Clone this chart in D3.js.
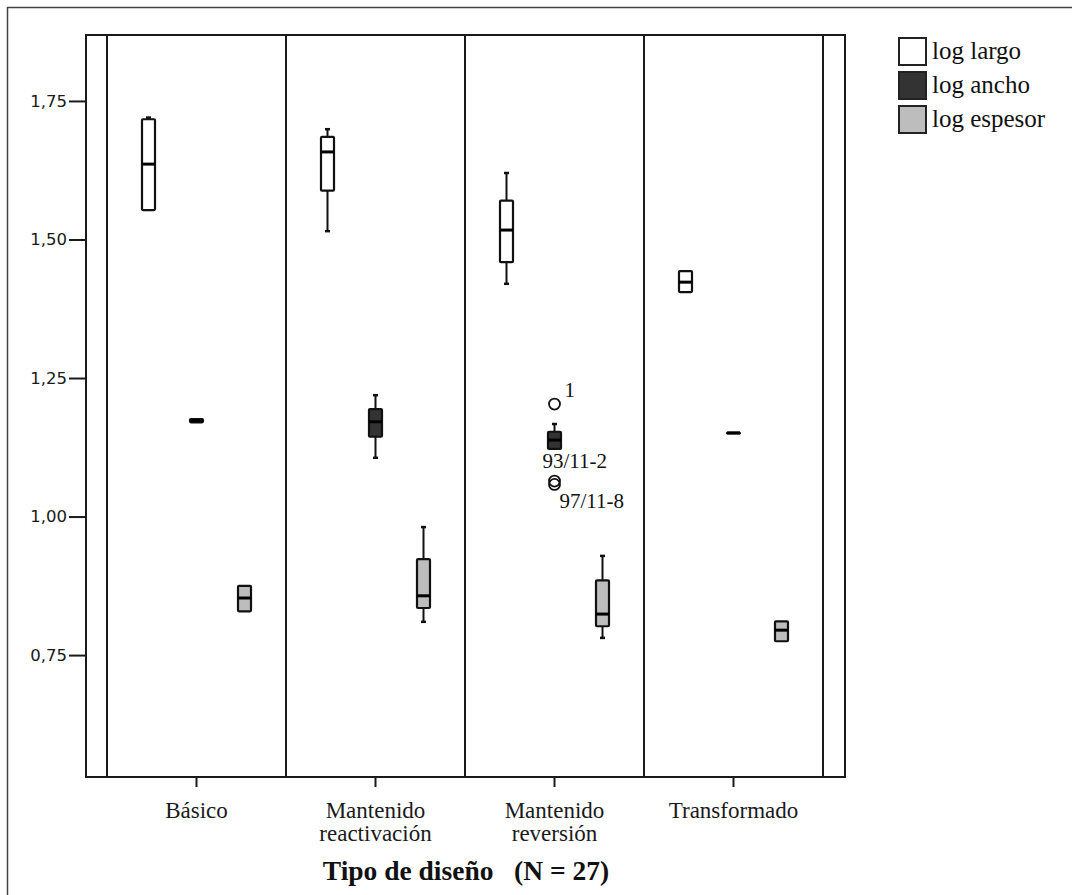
<!DOCTYPE html>
<html>
<head>
<meta charset="utf-8">
<script src="https://cdn.jsdelivr.net/npm/d3@7"></script>
<style>
  body { margin: 0; background: #fff; }
  svg { display: block; }
</style>
</head>
<body>
<script>
// categories and series
const categories = ["Básico", "Mantenido reactivación", "Mantenido reversión", "Transformado"];
const series = ["log largo", "log ancho", "log espesor"];

// [min, q1, median, q3, max] for each category
const logLargo = [
  [1.553, 1.553, 1.636, 1.717, 1.720],
  [1.515, 1.588, 1.658, 1.685, 1.699],
  [1.420, 1.459, 1.517, 1.570, 1.620],
  [1.405, 1.405, 1.423, 1.443, 1.443]
];
const logAncho = [
  [1.170, 1.170, 1.173, 1.176, 1.176],
  [1.106, 1.144, 1.171, 1.194, 1.219],
  [1.122, 1.122, 1.138, 1.153, 1.167],
  [1.151, 1.151, 1.151, 1.151, 1.151]
];
const logEspesor = [
  [0.829, 0.829, 0.853, 0.875, 0.875],
  [0.810, 0.835, 0.857, 0.923, 0.981],
  [0.781, 0.802, 0.824, 0.885, 0.929],
  [0.775, 0.775, 0.795, 0.811, 0.811]
];

// outliers (Mantenido reversión, log ancho)
const outlierValues = [1.203, 1.064, 1.058];
const outlierLabels = ["1", "93/11-2", "97/11-8"];

const yTicks = [0.75, 1.00, 1.25, 1.50, 1.75];

const fills = ["#ffffff", "#333333", "#bdbdbd"];
const stats = [logLargo, logAncho, logEspesor];

const W = 1072, H = 895;
const frame = { left: 86, right: 845, top: 35, bottom: 777 };

let svg = d3.select("body").append("svg")
    .attr("width", W)
    .attr("height", H);

// thin outer border (top and left)
svg.append("line").attr("x1", 7).attr("x2", W).attr("y1", 7.5).attr("y2", 7.5)
    .attr("stroke", "#444").attr("stroke-width", 1.5);
svg.append("line").attr("x1", 7.5).attr("x2", 7.5).attr("y1", 7).attr("y2", H)
    .attr("stroke", "#444").attr("stroke-width", 1.5);

// scales
let y = d3.scaleLinear().domain([0.53, 1.869]).range([frame.bottom, frame.top]);
let x = d3.scaleBand().domain(categories).range([107, 823]).padding(0);
let x1 = d3.scaleBand().domain(series)
    .range([x.bandwidth() / 2 - 72, x.bandwidth() / 2 + 72]);
let color = d3.scaleOrdinal(series, fills);

// plot frame
svg.append("rect")
    .attr("x", frame.left).attr("y", frame.top)
    .attr("width", frame.right - frame.left).attr("height", frame.bottom - frame.top)
    .attr("fill", "none").attr("stroke", "#1a1a1a").attr("stroke-width", 2);

// group separators
let edges = categories.map(c => x(c)).concat([x(categories[categories.length - 1]) + x.bandwidth()]);
svg.selectAll(".sep").data(edges).enter().append("line")
    .attr("class", "sep")
    .attr("x1", d => d).attr("x2", d => d)
    .attr("y1", frame.top).attr("y2", frame.bottom)
    .attr("stroke", "#1a1a1a").attr("stroke-width", 2);

// y axis
let yAxis = svg.append("g")
    .attr("transform", "translate(" + frame.left + ",0)")
    .call(d3.axisLeft(y).tickValues(yTicks).tickSize(17).tickPadding(2)
        .tickFormat(d => d3.format(".2f")(d).replace(".", ",")));
yAxis.select(".domain").remove();
yAxis.selectAll("line").attr("stroke", "#1a1a1a").attr("stroke-width", 2);
yAxis.selectAll("text")
    .attr("fill", "#1a1a1a")
    .style("font-family", "'DejaVu Sans', Verdana, sans-serif")
    .style("font-size", "16.5px");

// x axis
let xAxis = svg.append("g")
    .attr("transform", "translate(0," + frame.bottom + ")")
    .call(d3.axisBottom(x).tickSize(10));
xAxis.select(".domain").remove();
xAxis.selectAll("line").attr("stroke", "#1a1a1a").attr("stroke-width", 2);
xAxis.selectAll("text").remove();
xAxis.selectAll(".tick").append("text")
    .attr("fill", "#1a1a1a")
    .attr("text-anchor", "middle")
    .style("font-family", "'Liberation Serif', 'Times New Roman', serif")
    .style("font-size", "23px")
    .each(function (d) {
        let words = d.split(" ");
        let t = d3.select(this);
        words.forEach((w, i) => {
            t.append("tspan").attr("x", 0).attr("y", 41 + i * 23).text(w);
        });
    });

// axis title
svg.append("text")
    .attr("x", (x.range()[0] + x.range()[1]) / 2 + 1)
    .attr("y", 880)
    .attr("text-anchor", "middle")
    .attr("fill", "#111")
    .style("font-family", "'Liberation Serif', 'Times New Roman', serif")
    .style("font-size", "27.5px")
    .style("font-weight", "bold")
    .style("white-space", "pre")
    .text("Tipo de diseño   (N = 27)");

// boxes
let boxW = 13;
let boxes = [];
categories.forEach((c, ci) => {
    series.forEach((s, si) => {
        let v = stats[si][ci];
        boxes.push({ cat: c, ser: s, min: v[0], q1: v[1], med: v[2], q3: v[3], max: v[4] });
    });
});

let g = svg.selectAll(".box").data(boxes).enter().append("g")
    .attr("class", "box")
    .attr("transform", d => "translate(" + (x(d.cat) + x1(d.ser) + x1.bandwidth() / 2) + ",0)");

// whiskers
g.append("line")
    .attr("x1", 0).attr("x2", 0)
    .attr("y1", d => y(d.max)).attr("y2", d => y(d.q3))
    .attr("stroke", "#111").attr("stroke-width", 2);
g.append("line")
    .attr("x1", 0).attr("x2", 0)
    .attr("y1", d => y(d.q1)).attr("y2", d => y(d.min))
    .attr("stroke", "#111").attr("stroke-width", 2);
g.filter(d => d.max > d.q3).append("line")
    .attr("x1", -2.5).attr("x2", 2.5)
    .attr("y1", d => y(d.max)).attr("y2", d => y(d.max))
    .attr("stroke", "#111").attr("stroke-width", 2.5);
g.filter(d => d.min < d.q1).append("line")
    .attr("x1", -2.5).attr("x2", 2.5)
    .attr("y1", d => y(d.min)).attr("y2", d => y(d.min))
    .attr("stroke", "#111").attr("stroke-width", 2.5);

// box
g.append("rect")
    .attr("x", -boxW / 2)
    .attr("y", d => y(d.q3))
    .attr("width", boxW)
    .attr("height", d => Math.max(0.5, y(d.q1) - y(d.q3)))
    .attr("rx", 1)
    .attr("fill", d => color(d.ser))
    .attr("stroke", "#111").attr("stroke-width", 2.2);

// median
g.append("line")
    .attr("x1", -boxW / 2).attr("x2", boxW / 2)
    .attr("y1", d => y(d.med)).attr("y2", d => y(d.med))
    .attr("stroke", "#000").attr("stroke-width", 3);

// outliers
let ox = x("Mantenido reversión") + x1("log ancho") + x1.bandwidth() / 2;
let labelOffsets = [[10, -7], [-12, -13], [5, 24]];
svg.selectAll(".outlier").data(outlierValues).enter().append("circle")
    .attr("class", "outlier")
    .attr("cx", ox)
    .attr("cy", d => y(d))
    .attr("r", 5.5)
    .attr("fill", "none")
    .attr("stroke", "#111").attr("stroke-width", 1.8);
svg.selectAll(".olabel").data(outlierValues).enter().append("text")
    .attr("class", "olabel")
    .attr("x", (d, i) => ox + labelOffsets[i][0])
    .attr("y", (d, i) => y(d) + labelOffsets[i][1])
    .attr("fill", "#111")
    .style("font-family", "'Liberation Serif', 'Times New Roman', serif")
    .style("font-size", "21px")
    .text((d, i) => outlierLabels[i]);

// legend
let legend = svg.selectAll(".legend").data(series).enter().append("g")
    .attr("class", "legend")
    .attr("transform", (d, i) => "translate(899," + (38 + i * 34) + ")");
legend.append("rect")
    .attr("x", 0).attr("y", 0)
    .attr("width", 27).attr("height", 27)
    .attr("fill", d => color(d))
    .attr("stroke", "#222").attr("stroke-width", 2);
legend.append("text")
    .attr("x", 33).attr("y", 21)
    .attr("fill", "#111")
    .style("font-family", "'Liberation Serif', 'Times New Roman', serif")
    .style("font-size", "25px")
    .text(d => d);
</script>
</body>
</html>
